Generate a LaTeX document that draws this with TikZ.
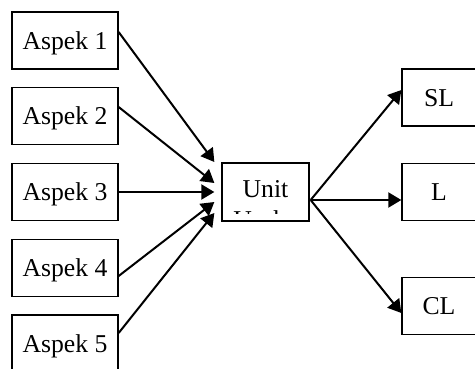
\documentclass[tikz,border=0pt]{standalone}
\usepackage{fontspec}
\setmainfont{Liberation Serif}
\usetikzlibrary{arrows.meta}
\begin{document}
\begin{tikzpicture}[x=1pt,y=-1pt,
  box/.style={draw=black,line width=1.3pt,minimum width=106pt,minimum height=57pt,
    inner sep=0pt,font=\fontsize{25.7}{30}\selectfont,text height=17.2pt,text depth=0pt},
  outbox/.style={box,minimum width=74pt},
  lbl/.style={inner sep=0pt,anchor=base,font=\fontsize{25.7}{30}\selectfont},
  link/.style={line width=2pt,-{Triangle[length=13pt,width=15pt]}}]
\useasboundingbox (0,0) rectangle (475,368);
\clip (0,0) rectangle (475,368);
\fill[white] (0,0) rectangle (475,368);

% input aspects
\node[box] (a1) at (65,40.5) {Aspek 1};
\node[box] (a2) at (65,116) {Aspek 2};
\node[box] (a3) at (65,192) {Aspek 3};
\node[box] (a4) at (65,268) {Aspek 4};
\node[box] (a5) at (65,343.5) {Aspek 5};

% central unit, its label cut off by the frame
\node[box,minimum width=87pt,minimum height=58pt] (u) at (265.5,192) {};
\begin{scope}
  \clip (u.north west) rectangle ([yshift=8pt]u.south east);
  \node[lbl] (ut1) at (265.5,197) {Unit};
  \node[lbl] (ut2) at (265.5,228) {Usaha};
\end{scope}

% outcome classes
\node[outbox] (sl) at (439,97.5) {SL};
\node[outbox] (l) at (439,192) {L};
\node[outbox] (cl) at (439,306) {CL};

% connectors into the unit
\draw[link] ([yshift=8.5pt]a1.east) -- ([xshift=-7pt,yshift=30pt]u.west);
\draw[link] ([yshift=9pt]a2.east) -- ([xshift=-7pt,yshift=9pt]u.west);
\draw[link] (a3.east) -- ([xshift=-7pt]u.west);
\draw[link] ([yshift=-8pt]a4.east) -- ([xshift=-7pt,yshift=-10pt]u.west);
\draw[link] ([yshift=10.5pt]a5.east) -- ([xshift=-7pt,yshift=-21pt]u.west);

% connectors out of the unit
\coordinate (uo) at ([xshift=1pt,yshift=-8pt]u.east);
\draw[link] (uo) -- ([yshift=7.5pt]sl.west);
\draw[link] (uo) -- ([yshift=-8pt]l.west);
\draw[link] (uo) -- ([yshift=-7pt]cl.west);
\end{tikzpicture}
\end{document}
